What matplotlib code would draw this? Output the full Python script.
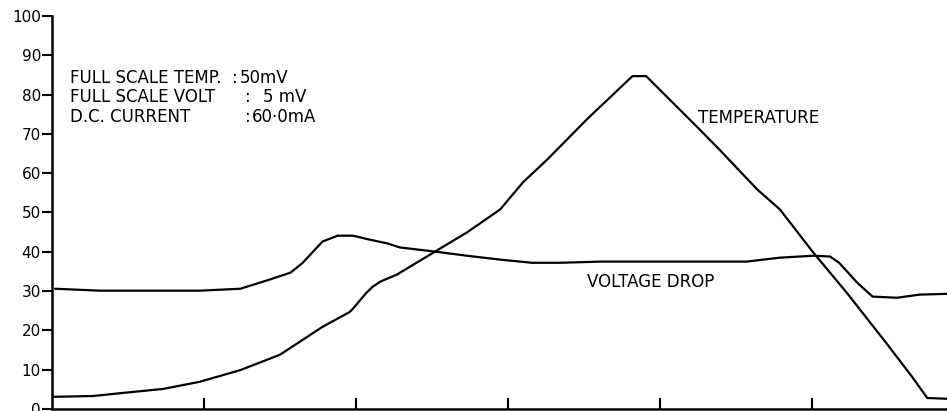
import numpy as np
import matplotlib.pyplot as plt

# 曲线数据（x 以刻度间隔为单位）
volt_x = [0.02, 0.32, 0.64, 0.97, 1.24, 1.43, 1.57, 1.65, 1.72, 1.78, 1.88, 1.98, 2.09,
          2.21, 2.29, 2.51, 2.73, 2.95, 3.16, 3.34, 3.61, 4.13, 4.57, 4.79, 5.01, 5.12,
          5.18, 5.30, 5.40, 5.56, 5.71, 5.89]
volt_y = [30.6, 30.1, 30.1, 30.1, 30.6, 32.9, 34.7, 37.2, 40.1, 42.6, 44.1, 44.1, 43.1,
          42.1, 41.1, 40.1, 39.0, 38.0, 37.2, 37.2, 37.5, 37.5, 37.5, 38.5, 39.0, 38.8,
          37.2, 32.1, 28.6, 28.3, 29.1, 29.3]

temp_x = [0.01, 0.27, 0.47, 0.73, 0.97, 1.24, 1.50, 1.78, 1.96, 1.98, 2.07, 2.11, 2.16,
          2.27, 2.51, 2.73, 2.95, 3.10, 3.26, 3.52, 3.82, 3.91, 4.05, 4.26, 4.39, 4.64,
          4.79, 5.01, 5.23, 5.49, 5.66, 5.76, 5.89]
temp_y = [3.1, 3.3, 4.1, 5.1, 6.9, 9.9, 13.8, 20.9, 24.7, 25.5, 29.6, 31.1, 32.4,
          34.2, 39.8, 44.9, 50.8, 57.7, 63.5, 73.7, 84.7, 84.7, 79.3, 71.2, 66.1, 55.9,
          50.8, 39.8, 29.6, 16.8, 8.2, 2.8, 2.6]

y_ticks = list(range(0, 101, 10))
x_ticks = [1, 2, 3, 4, 5]

info_labels = ['FULL SCALE TEMP.', 'FULL SCALE VOLT', 'D.C. CURRENT']
info_colon_x = [232, 245, 245]
info_values = ['50mV', '5 mV', '60·0mA']
info_value_x = [240, 263, 252]

plt.rcParams['font.family'] = ['DejaVu Sans']

fig = plt.figure(figsize=(9.47, 4.11), dpi=100)
ax = fig.add_axes([0.0549, 0.0049, 0.9451, 0.9562])

for xs, ys in [(temp_x, temp_y), (volt_x, volt_y)]:
    ax.plot(xs, ys, color='black', linewidth=1.6, clip_on=False,
            solid_joinstyle='round', solid_capstyle='round')

ax.set_xlim(0, 5.89)
ax.set_ylim(0, 100)

for s in ['top', 'right']:
    ax.spines[s].set_visible(False)
ax.spines['left'].set_linewidth(1.8)
ax.spines['bottom'].set_linewidth(1.8)

ax.set_yticks(y_ticks)
ax.set_xticks(x_ticks)
ax.set_xticklabels([])
ax.tick_params(axis='y', direction='out', length=7, width=1.5, pad=1, labelsize=11)
ax.tick_params(axis='x', direction='in', length=8, width=1.5)

# 左上角说明文字（按像素位置放置）
fig_h = 411
for i, lab in enumerate(info_labels):
    yy = 1 - (78 + i * 19.5) / fig_h
    fig.text(70 / 947, yy, lab, fontsize=12, va='center')
    fig.text(info_colon_x[i] / 947, yy, ':', fontsize=12, va='center')
    fig.text(info_value_x[i] / 947, yy, info_values[i], fontsize=12, va='center')

ax.text(4.25, 74.1, 'TEMPERATURE', fontsize=12, va='center')
ax.text(3.52, 32.4, 'VOLTAGE DROP', fontsize=12, va='center')

fig.savefig('out.png', dpi=100)
